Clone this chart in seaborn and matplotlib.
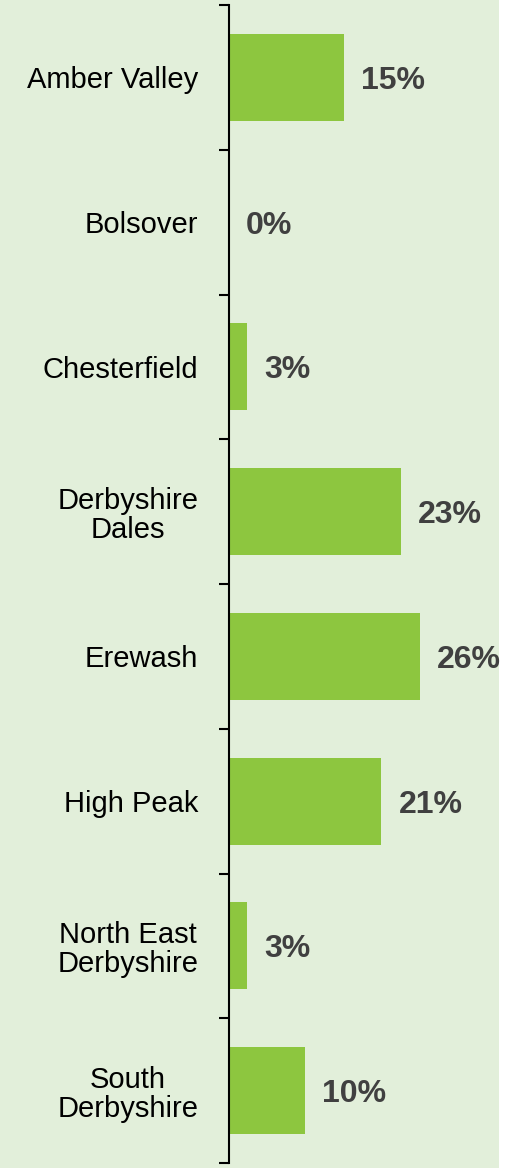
import numpy as np
import pandas as pd
import matplotlib
matplotlib.use("Agg")
import matplotlib.pyplot as plt
import seaborn as sns
from matplotlib.patches import Rectangle
from matplotlib.ticker import FixedLocator

districts = ["Amber Valley", "Bolsover", "Chesterfield", "Derbyshire\nDales",
             "Erewash", "High Peak", "North East\nDerbyshire", "South\nDerbyshire"]
shares = [15.5, 0.0, 2.5, 23.2, 25.8, 20.6, 2.5, 10.3]
share_labels = ["15%", "0%", "3%", "23%", "26%", "21%", "3%", "10%"]

df = pd.DataFrame({"district": districts, "share": shares})

sns.set_style("white")
plt.rcParams["font.family"] = ["Liberation Sans", "DejaVu Sans"]

bg = "#E2EFDA"
bar_col = "#8DC63F"

fig = plt.figure(figsize=(5.1, 11.68), dpi=100)
fig.patch.set_facecolor("white")
fig.patches.append(Rectangle((0, 0), 499 / 510, 1, transform=fig.transFigure,
                             facecolor=bg, edgecolor="none", zorder=-10))
ax = fig.add_axes([229 / 510, 5 / 1168, 270 / 510, 1 - 10 / 1168])
ax.set_facecolor("none")

sns.barplot(data=df, x="share", y="district", color=bar_col, width=0.6,
            saturation=1, ax=ax, orient="h", linewidth=0)

ax.set_xlim(0, 36.5)
ax.set_ylim(len(districts) - 0.5, -0.5)

for i, (v, lab) in enumerate(zip(shares, share_labels)):
    ax.text(v + 2.3, i, lab, va="center_baseline", ha="left", fontsize=23,
            fontweight="bold", color="#404040")

for s in ["top", "right", "bottom"]:
    ax.spines[s].set_visible(False)
ax.spines["left"].set_color("black")
ax.spines["left"].set_linewidth(1.5)

ax.set_xticks([])
ax.set_xlabel("")
ax.set_ylabel("")
ax.set_yticks(range(len(districts)))
ax.set_yticklabels(districts, fontsize=21, color="black", ha="right",
                   multialignment="center", linespacing=1.05)
ax.tick_params(axis="y", which="major", length=0, pad=22)
ax.yaxis.set_minor_locator(FixedLocator(np.arange(-0.5, len(districts), 1.0)))
ax.tick_params(axis="y", which="minor", length=7, width=1.5, color="black", left=True)

fig.savefig("out.png", dpi=100, facecolor=fig.get_facecolor())
